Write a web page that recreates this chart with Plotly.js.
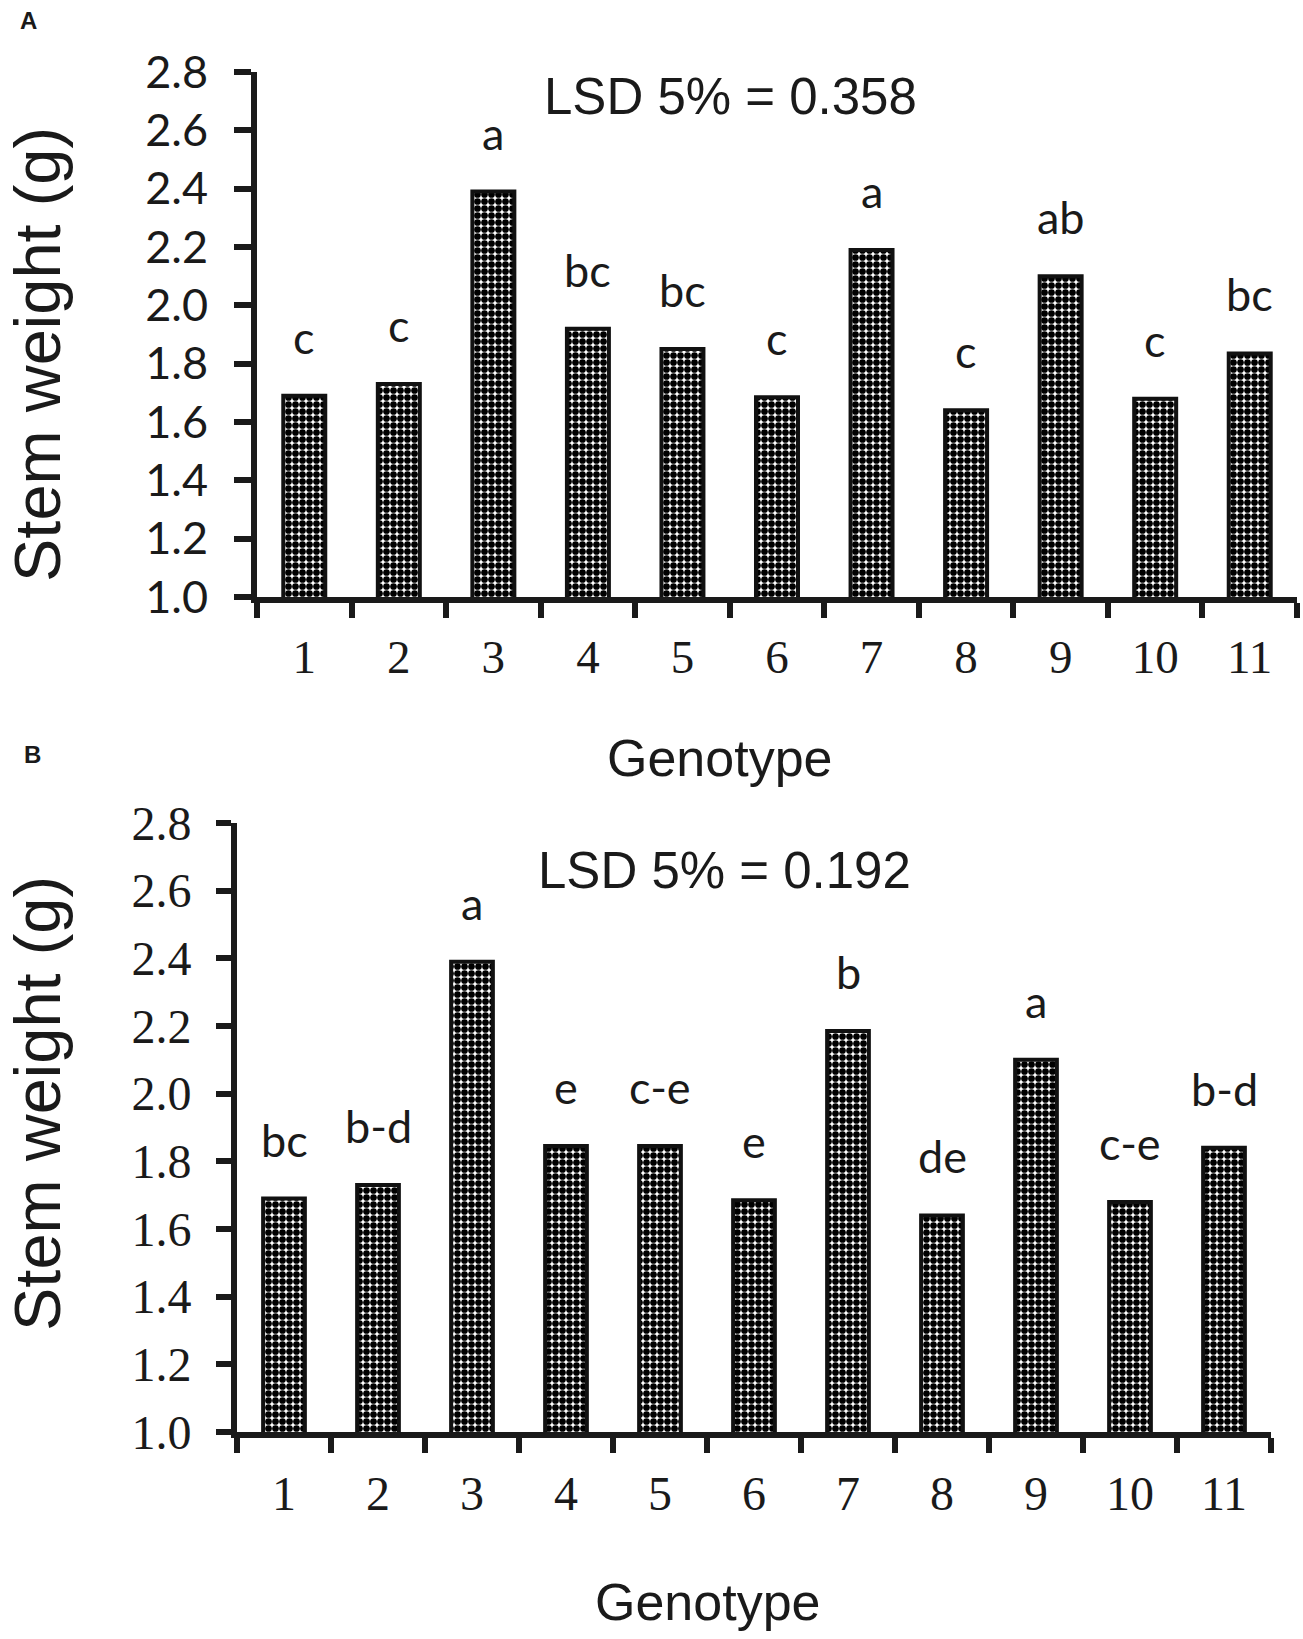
<!DOCTYPE html>
<html>
<head>
<meta charset="utf-8">
<script src="https://cdn.plot.ly/plotly-3.0.1.min.js"></script>
<style>html,body{margin:0;padding:0;background:#fff;}#chart{width:1303px;height:1639px;}</style>
</head>
<body>
<div id="chart"></div>
<script>
// ---- data ----
const genotypes = ["1","2","3","4","5","6","7","8","9","10","11"];
const stemWeightA = [1.69, 1.73, 2.39, 1.92, 1.85, 1.685, 2.19, 1.64, 2.10, 1.68, 1.835];
const lettersA = ["c","c","a","bc","bc","c","a","c","ab","c","bc"];
const stemWeightB = [1.69, 1.73, 2.39, 1.845, 1.845, 1.685, 2.185, 1.64, 2.10, 1.68, 1.84];
const lettersB = ["bc","b-d","a","e","c-e","e","b","de","a","c-e","b-d"];
const yTickVals = [1.0, 1.2, 1.4, 1.6, 1.8, 2.0, 2.2, 2.4, 2.6, 2.8];
const yTickText = ["1.0","1.2","1.4","1.6","1.8","2.0","2.2","2.4","2.6","2.8"];
const lsdA = "LSD 5% = 0.358";
const lsdB = "LSD 5% = 0.192";
const yTitle = "Stem weight (g)";
const xTitle = "Genotype";

// ---- geometry helpers ----
const W = 1303, H = 1639;
const px = v => v / W;
const py = v => 1 - v / H;

const barPattern = {shape: ".", fgcolor: "#000", bgcolor: "#fff", size: 7, solidity: 0.72};
function barTrace(y, xa, ya) {
  return {
    type: "bar", x: genotypes, y: y, xaxis: xa, yaxis: ya,
    marker: {color: "#fff", pattern: barPattern, line: {color: "#111", width: 4}},
    hoverinfo: "skip", showlegend: false
  };
}

const serif = "Liberation Serif, Times New Roman, serif";
const sans = "Liberation Sans, Arial, sans-serif";
const humanist = "Lato, Open Sans, sans-serif";

function xAxis(domain, anchor, fontSize, standoff) {
  return {
    domain: domain, anchor: anchor, type: "category", range: [-0.5, 10.5],
    showline: true, linewidth: 6, linecolor: "#1a1a1a",
    ticks: "outside", tickson: "boundaries", ticklen: 15, tickwidth: 6, tickcolor: "#1a1a1a",
    showgrid: false, zeroline: false,
    tickfont: {family: serif, size: fontSize, color: "#1a1a1a"},
    ticklabelstandoff: standoff, fixedrange: true
  };
}
function yAxis(domain, anchor, font, ticklen, standoff) {
  return {
    domain: domain, anchor: anchor, range: [1.0, 2.8],
    tickvals: yTickVals, ticktext: yTickText,
    showline: true, linewidth: 6, linecolor: "#1a1a1a",
    ticks: "outside", ticklen: ticklen, tickwidth: 6, tickcolor: "#1a1a1a",
    showgrid: false, zeroline: false,
    tickfont: font, ticklabelstandoff: standoff, fixedrange: true
  };
}

const annotations = [];
function letters(arr, vals, xref, yref, shift) {
  // category axis: x given as category index
  arr.forEach((t, i) => annotations.push({
    x: i, y: vals[i], xref: xref, yref: yref, text: t, showarrow: false,
    xanchor: "center", yanchor: "middle", yshift: shift,
    font: {family: humanist, size: 45, color: "#1a1a1a"}
  }));
}
letters(lettersA, stemWeightA, "x", "y", 59);
letters(lettersB, stemWeightB, "x2", "y2", 59);

function txt(text, x, y, size, family, extra) {
  annotations.push(Object.assign({
    text: text, x: px(x), y: py(y), xref: "paper", yref: "paper", showarrow: false,
    xanchor: "center", yanchor: "middle", font: {family: family, size: size, color: "#1a1a1a"}
  }, extra || {}));
}
txt(lsdA, 731, 96, 51, sans);
txt(lsdB, 724, 870, 51, sans);
txt(xTitle, 720, 758, 52, sans);
txt(xTitle, 708, 1602, 52, sans);
txt(yTitle, 37, 355, 65, sans, {textangle: -90});
txt(yTitle, 37, 1104, 65, sans, {textangle: -90});
txt("<b>A</b>", 29, 20, 24, sans);
txt("<b>B</b>", 32, 755, 24, sans);

const data = [barTrace(stemWeightA, "x", "y"), barTrace(stemWeightB, "x2", "y2")];

const layout = {
  width: W, height: H, margin: {l: 0, r: 0, t: 0, b: 0},
  paper_bgcolor: "#fff", plot_bgcolor: "rgba(0,0,0,0)",
  bargap: 0.556, showlegend: false,
  xaxis: xAxis([px(257), px(1297)], "y", 47, 14),
  yaxis: yAxis([py(597), py(72)], "x", {family: humanist, size: 45, color: "#1a1a1a"}, 17, 17),
  xaxis2: xAxis([px(237), px(1271)], "y2", 48, 14),
  yaxis2: yAxis([py(1432), py(823)], "x2", {family: serif, size: 48, color: "#1a1a1a"}, 15, 15),
  annotations: annotations
};

Plotly.newPlot("chart", data, layout, {staticPlot: true, displayModeBar: false});
</script>
</body>
</html>
